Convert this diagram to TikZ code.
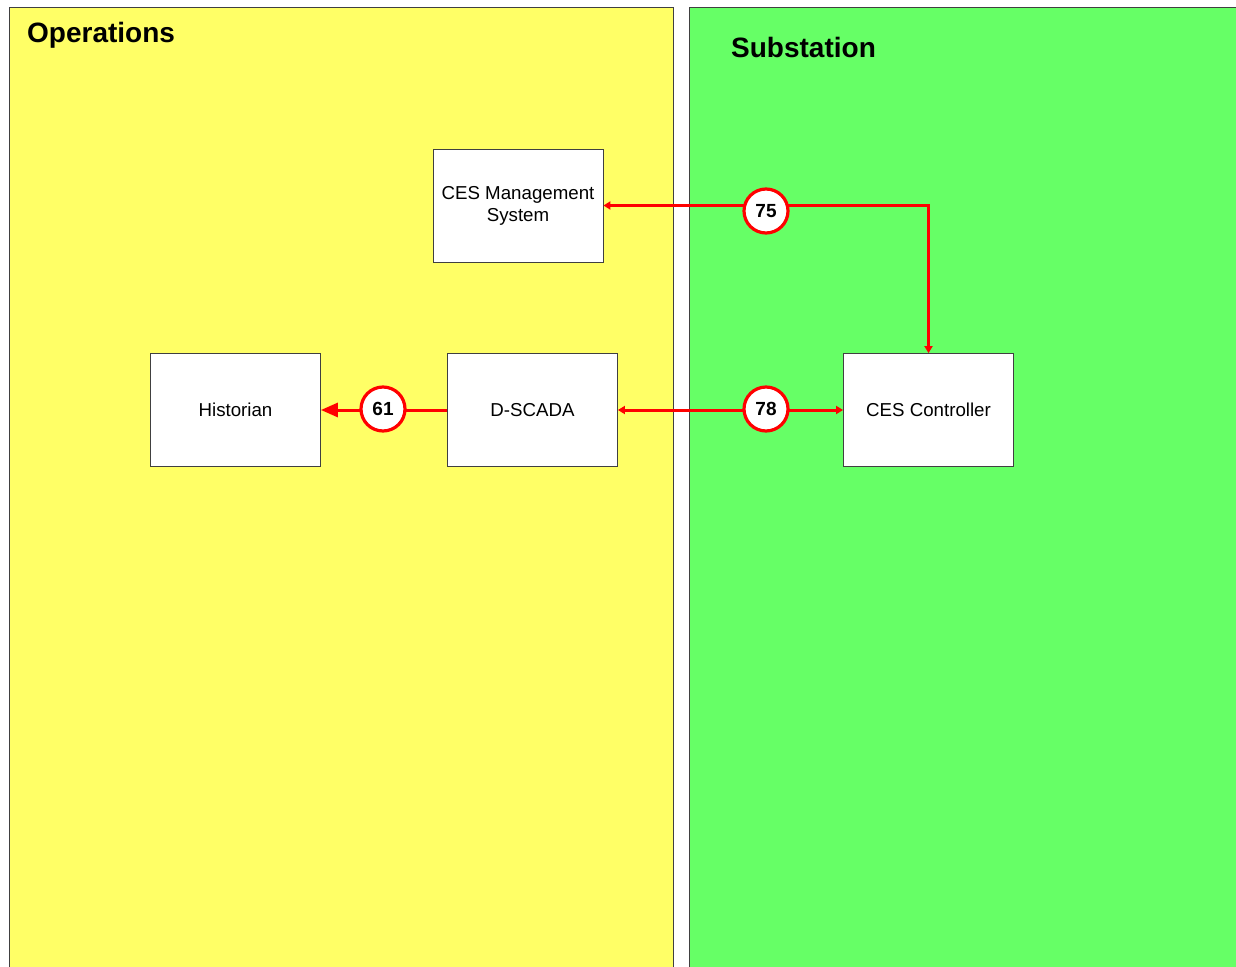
\documentclass[tikz,border=0pt]{standalone}
\usepackage{fontspec}
\setmainfont{Liberation Sans}
\usetikzlibrary{arrows.meta}
\definecolor{opyellow}{HTML}{FFFF66}
\definecolor{subgreen}{HTML}{66FF66}
\definecolor{linkred}{HTML}{FF0000}
\definecolor{edgegray}{HTML}{404040}
\tikzset{
  panel/.style={draw=edgegray, line width=0.8pt},
  sysbox/.style={draw=edgegray, fill=white, line width=0.8pt, minimum width=170pt, minimum height=113pt, inner sep=2pt, align=center, font=\fontsize{18.7}{22}\selectfont},
  flowid/.style={circle, draw=linkred, fill=white, line width=3.2pt, minimum size=44pt, inner sep=0pt, font=\fontsize{19}{20}\selectfont\bfseries},
  link/.style={draw=linkred, line width=3pt},
  smalltip/.style={-{Triangle[length=7pt,width=8pt]}},
  bigtip/.style={-{Triangle[length=17pt,width=14pt]}},
  paneltitle/.style={anchor=base west, inner sep=0pt, font=\fontsize{28}{30}\selectfont\bfseries}
}
\begin{document}
\begin{tikzpicture}[x=1pt,y=-1pt]
\clip (0,0) rectangle (1236,966);
\fill[white] (0,0) rectangle (1236,966);
% panels
\draw[panel, fill=opyellow] (9,7) rectangle (673,980);
\draw[panel, fill=subgreen] (689,7) rectangle (1250,980);
\node[paneltitle] (optitle) at (27,43) {Operations};
\node[paneltitle] (subtitle) at (731,57) {Substation};
% systems
\node[sysbox] (cesms) at (518,205.5) {CES Management\\System};
\node[sysbox] (hist) at (235.5,410) {Historian};
\node[sysbox] (dscada) at (532.5,410) {D-SCADA};
\node[sysbox] (cesc) at (928.5,410) {CES Controller};
% connectors
\coordinate (corner75) at (cesc.north |- cesms.east);
\draw[link, {Triangle[length=7pt,width=8pt]}-{Triangle[length=7pt,width=8pt]}] (cesms.east) -- (corner75) -- (cesc.north);
\draw[link, {Triangle[length=7pt,width=8pt]}-{Triangle[length=7pt,width=8pt]}] (dscada.east) -- (cesc.west);
\draw[link, bigtip] (dscada.west) -- (hist.east);
% flow ids
\node[flowid] (f75) at (766,211) {75};
\node[flowid] (f78) at (766,409) {78};
\node[flowid] (f61) at (383,409) {61};
\end{tikzpicture}
\end{document}
